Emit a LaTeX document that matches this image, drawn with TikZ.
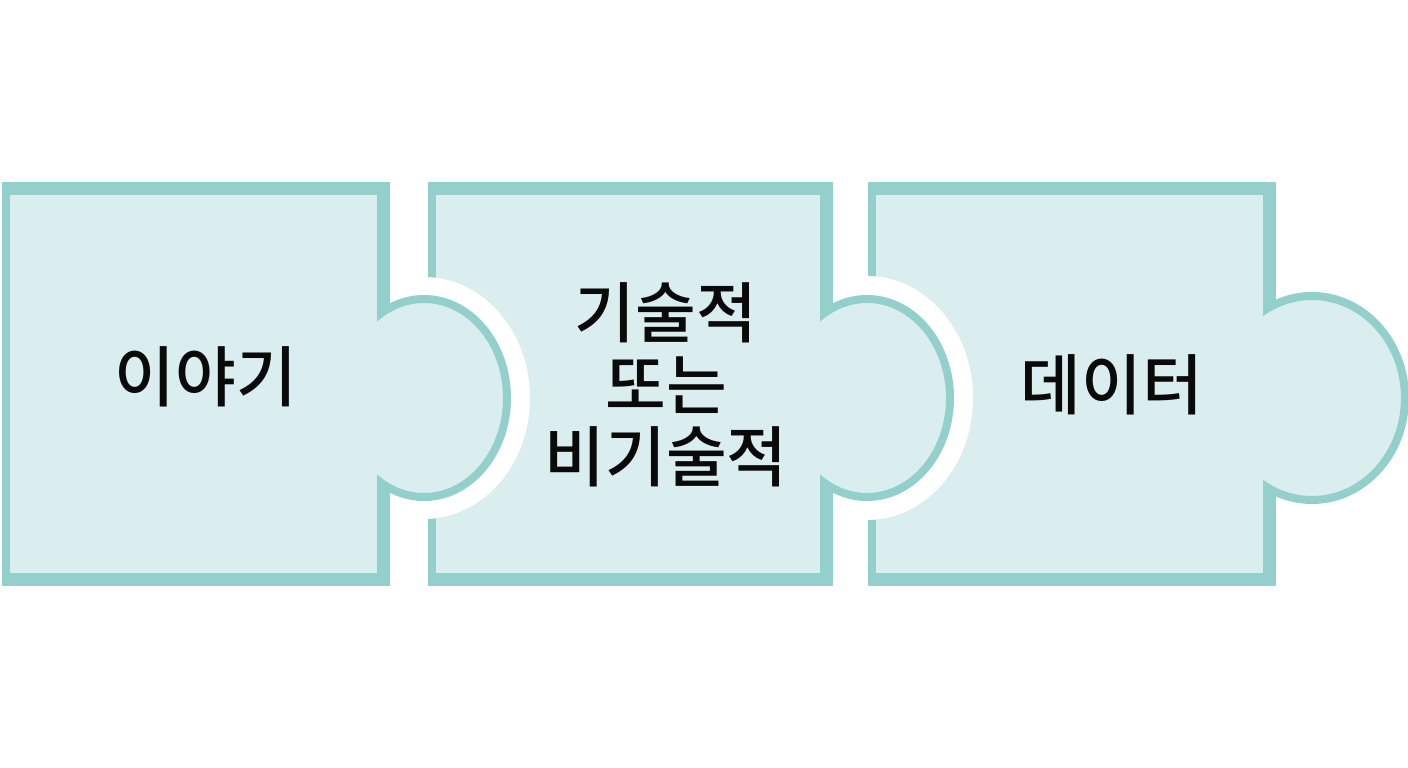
\documentclass[tikz,border=0pt]{standalone}
\usepackage{fontspec}
\newfontfamily\kr{Noto Sans CJK KR Medium}
\definecolor{pborder}{RGB}{147,207,203}
\definecolor{pfill}{RGB}{218,238,240}
\definecolor{ptext}{RGB}{10,10,10}
\tikzset{
  knob/.style={fill=pfill, draw=pborder, line width=8pt},
  halo/.style={fill=white},
  label/.style={text=ptext, font=\kr\fontsize{66}{72}\selectfont, align=center, inner sep=0pt}
}
\newcommand{\piece}[8]{%
  \fill[pborder] (#1,#2) rectangle (#3,#4);
  \fill[pfill] (#5,#6) rectangle (#7,#8);
}
\begin{document}
\begin{tikzpicture}[x=1pt,y=-1pt]
\useasboundingbox (0,0) rectangle (1408,768);
\fill[white] (0,0) rectangle (1408,768);
% piece 3 and its socket halo
\piece{868}{182}{1276}{586}{876}{195}{1263}{573}
\fill[halo] (867,398) ellipse [x radius=106, y radius=122];
% piece 2 and its socket halo
\piece{428}{182}{833}{586}{436}{195}{820}{573}
\fill[halo] (424,398) ellipse [x radius=106, y radius=121];
% piece 1
\piece{2}{182}{390}{586}{10}{195}{377}{573}
% knobs
\begin{scope}
  \clip (377,0) rectangle (560,768);
  \draw[knob] (424,398) ellipse [x radius=83, y radius=99];
\end{scope}
\begin{scope}
  \clip (820,0) rectangle (1000,768);
  \draw[knob] (867,398) ellipse [x radius=83, y radius=99];
\end{scope}
\begin{scope}
  \clip (1263,0) rectangle (1408,768);
  \draw[knob] (1312,398) ellipse [x radius=93, y radius=102];
\end{scope}
% labels
\node[label] (t1) at (206,377) {이야기};
\node[label] (t2) at (666,385) {기술적\\또는\\비기술적};
\node[label] (t3) at (1112,385) {데이터};
\end{tikzpicture}
\end{document}
